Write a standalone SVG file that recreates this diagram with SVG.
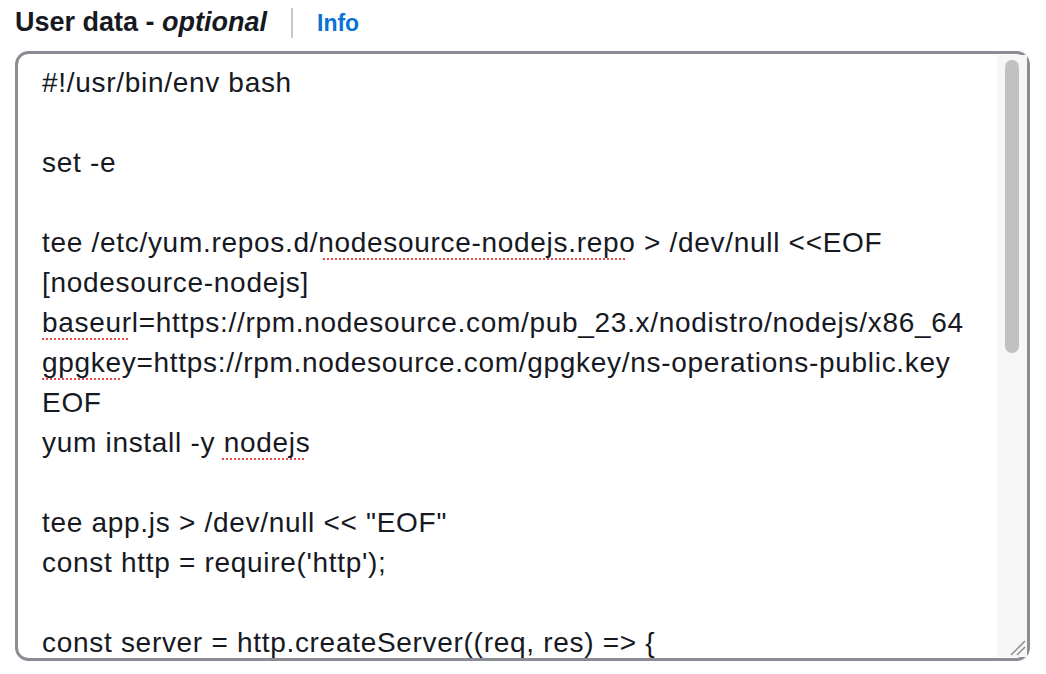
<svg xmlns="http://www.w3.org/2000/svg" width="1046" height="674" viewBox="0 0 1046 674">
<style>
.t{font-family:"Liberation Sans",Arial,sans-serif;font-size:28px;letter-spacing:0.7px;fill:#16191f}
.sp{stroke:#e5484d;stroke-width:2;stroke-dasharray:2 2;fill:none}
</style>
<rect width="1046" height="674" fill="#fff"/>
<g id="header">
<text x="15" y="31" font-family="Liberation Sans,Arial,sans-serif" font-size="27" font-weight="bold" fill="#16191f">User data - <tspan font-style="italic">optional</tspan></text>
<line x1="292" y1="8" x2="292" y2="38" stroke="#c6c6cd" stroke-width="2"/>
<text x="317" y="31" font-family="Liberation Sans,Arial,sans-serif" font-size="23" font-weight="bold" fill="#0972d3">Info</text>
</g>
<g id="textarea">
<rect x="16.5" y="52.5" width="1012" height="607" rx="12" fill="#fff" stroke="#8c8c94" stroke-width="3"/>
<rect x="997" y="55" width="30" height="602" fill="#f6f6f6"/>
<rect x="1005" y="60" width="14" height="293" rx="7" fill="#c1c1c1"/>
<path d="M1011 655 L1025 641 M1017 655 L1025 647" stroke="#8c8c94" stroke-width="1.5"/>
<text class="t" x="42" y="92">#!/usr/bin/env bash</text>
<text class="t" x="42" y="172">set -e</text>
<text class="t" x="42" y="252">tee /etc/yum.repos.d/nodesource-nodejs.repo &gt; /dev/null &lt;&lt;EOF</text>
<text class="t" x="42" y="292">[nodesource-nodejs]</text>
<text class="t" x="42" y="332">baseurl=https://rpm.nodesource.com/pub_23.x/nodistro/nodejs/x86_64</text>
<text class="t" x="42" y="372">gpgkey=https://rpm.nodesource.com/gpgkey/ns-operations-public.key</text>
<text class="t" x="42" y="412">EOF</text>
<text class="t" x="42" y="452">yum install -y nodejs</text>
<text class="t" x="42" y="532">tee app.js &gt; /dev/null &lt;&lt; "EOF"</text>
<text class="t" x="42" y="572">const http = require('http');</text>
<text class="t" x="42" y="652">const server = http.createServer((req, res) =&gt; {</text>
<path class="sp" d="M323 259 H627 M42 339 H128 M42 379 H122 M222 459 H305"/>
</g>
</svg>
